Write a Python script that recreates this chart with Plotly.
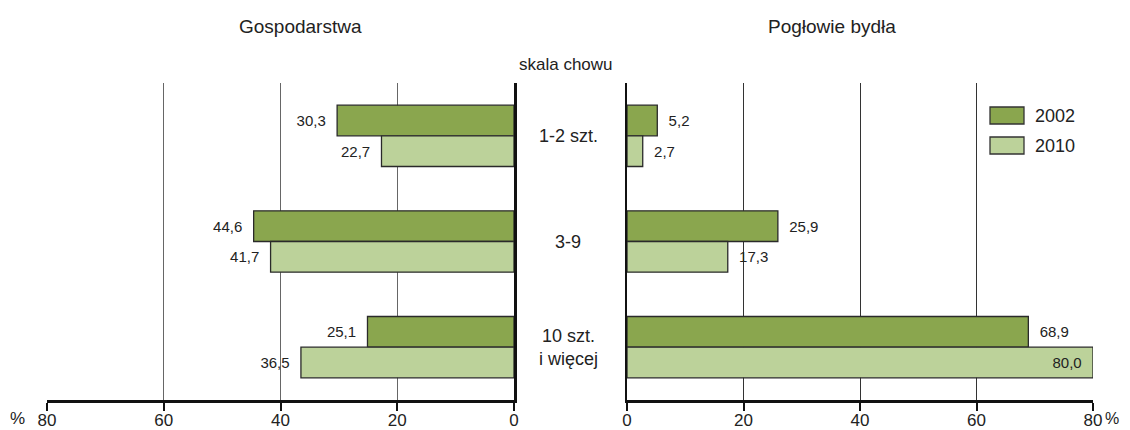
import plotly.graph_objects as go

categories = ["1-2 szt.", "3-9", "10 szt.<br>i więcej"]
years = ["2002", "2010"]
gosp_2002 = [30.3, 44.6, 25.1]
gosp_2010 = [22.7, 41.7, 36.5]
bydlo_2002 = [5.2, 25.9, 68.9]
bydlo_2010 = [2.7, 17.3, 80.0]
tick_vals = [0, 20, 40, 60, 80]

C_DARK = "#8aa64e"
C_LIGHT = "#bcd29a"
FONT = "Liberation Sans Narrow, Arial Narrow, Liberation Sans, Arial, sans-serif"
TXT = "#222222"

def fmt(vals):
    return [f"{v:.1f}".replace(".", ",") for v in vals]

OFF = 8  # page body margin
W, H = 1130 - 2 * OFF, 430 - OFF
# target plot box in window pixels
PX0, PX1, PY0, PY1 = 47, 1093, 83, 400
ML, MT = PX0 - OFF, PY0 - OFF
MR = W - (PX1 - OFF)
MB = H - (PY1 - OFF)
PW = PX1 - PX0
PH = PY1 - PY0

def px_x(p):
    return (p - PX0) / PW

def px_y(p):
    return 1 - (p - PY0) / PH

fig = go.Figure()
ycat = list(range(len(categories)))

def add_bar(vals, color, xa, ya, positions):
    fig.add_trace(go.Bar(
        y=ycat, x=vals, orientation="h",
        marker=dict(color=color, line=dict(color="#2a2a2a", width=1.3)),
        text=["  " + t + "  " for t in fmt(vals)], textposition=positions,
        insidetextanchor="end",
        textfont=dict(family=FONT, size=15, color=TXT),
        cliponaxis=False, showlegend=False,
        xaxis=xa, yaxis=ya, hoverinfo="skip",
    ))

add_bar(gosp_2002, C_DARK, "x", "y", "outside")
add_bar(gosp_2010, C_LIGHT, "x", "y", "outside")
add_bar(bydlo_2002, C_DARK, "x2", "y2", "outside")
add_bar(bydlo_2010, C_LIGHT, "x2", "y2",
        ["inside" if v >= 75 else "outside" for v in bydlo_2010])

dom1 = [0, px_x(514)]
dom2 = [px_x(627), 1]

axis_common = dict(
    tickvals=tick_vals, ticktext=[str(t) for t in tick_vals],
    ticks="outside", ticklen=8, tickwidth=2, tickcolor="#111",
    ticklabelstandoff=-5,
    showline=True, linecolor="#111", linewidth=2.5,
    showgrid=True, gridwidth=1.3,
    zeroline=False, automargin=False,
    tickfont=dict(family=FONT, size=17, color=TXT),
)

fig.update_layout(
    width=W, height=H,
    margin=dict(l=ML, r=MR, t=MT, b=MB, autoexpand=False),
    paper_bgcolor="white", plot_bgcolor="white",
    barmode="group", bargap=0.42, bargroupgap=0,
    xaxis=dict(domain=dom1, range=[80, 0], anchor="y", gridcolor="#666", **axis_common),
    xaxis2=dict(domain=dom2, range=[0, 80], anchor="y2", gridcolor="#333", **axis_common),
    yaxis=dict(range=[2.5, -0.5], anchor="x", side="right", showline=True,
               linecolor="#111", linewidth=2.5, showticklabels=False, automargin=False,
               showgrid=False, zeroline=False, ticks=""),
    yaxis2=dict(range=[2.5, -0.5], anchor="x2", side="left", showline=True,
                linecolor="#111", linewidth=2, showticklabels=False, automargin=False,
                showgrid=False, zeroline=False, ticks=""),
    font=dict(family=FONT, color=TXT),
)

def note(text, xp, yp, size, xanchor="center", yref="paper", yval=None):
    return dict(text=text, x=px_x(xp), y=(px_y(yp) if yval is None else yval),
                xref="paper", yref=yref, xanchor=xanchor, yanchor="middle",
                showarrow=False, font=dict(size=size, family=FONT, color=TXT))

ann = []
ann.append(note("Gospodarstwa", 300, 26, 19))
ann.append(note("Pogłowie bydła", 832, 26, 19))
ann.append(note("skala chowu", 566, 65, 17))
for i, c in enumerate(categories):
    ann.append(note(c, 568, 0, 18, yref="y", yval=i))
ann.append(note("%", 17, 418, 17))
ann.append(note("%", 1121, 418, 16, xanchor="right"))

# legend
shapes = []
leg = [(years[0], C_DARK, 107, 124), (years[1], C_LIGHT, 137, 154)]
for label, col, y0, y1 in leg:
    shapes.append(dict(type="rect", xref="paper", yref="paper",
                       x0=px_x(990), x1=px_x(1024), y0=px_y(y1), y1=px_y(y0),
                       fillcolor=col, line=dict(color="#333", width=1.3)))
    ann.append(note(label, 1033, (y0 + y1) / 2, 18, xanchor="left"))

fig.update_layout(annotations=ann, shapes=shapes)
fig.write_html("out.html")
